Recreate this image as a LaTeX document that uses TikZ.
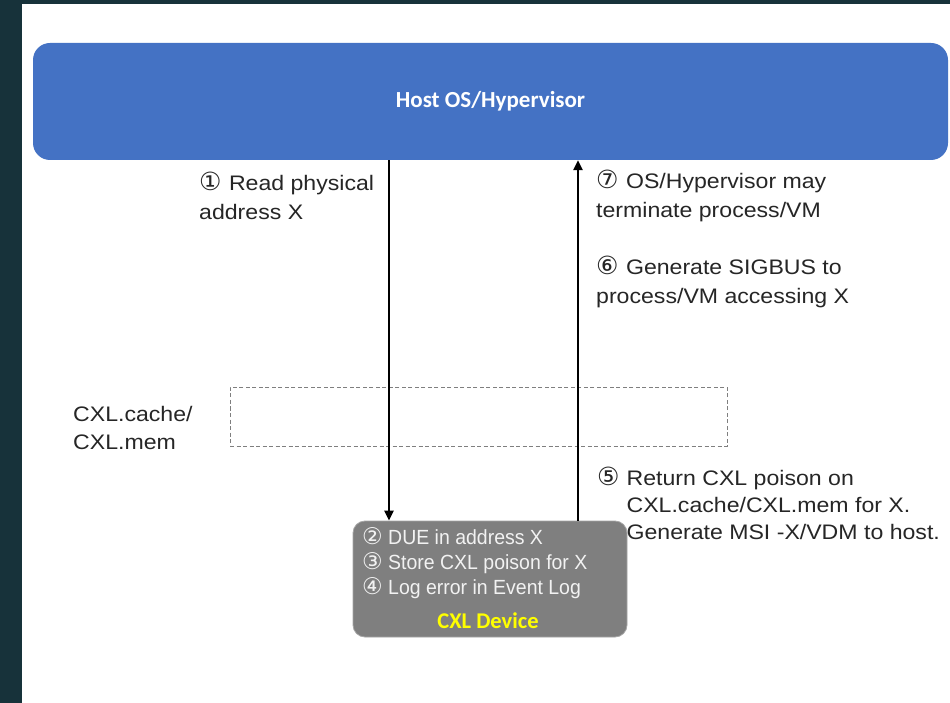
\documentclass[tikz,border=0pt]{standalone}
\usepackage{fontspec}
\setmainfont{Liberation Sans}[FakeStretch=1.1]
\newfontfamily\boxfont{Liberation Sans}[FakeStretch=0.95]
\newfontfamily\titlefont{Carlito}
\newfontfamily\circfont{DejaVu Sans}
\usetikzlibrary{arrows.meta}

\definecolor{frame}{HTML}{17323A}
\definecolor{hostblue}{HTML}{4472C4}
\definecolor{devgray}{HTML}{7F7F7F}
\definecolor{devedge}{HTML}{A6A6A6}
\definecolor{labeltext}{HTML}{262626}
\definecolor{boxtext}{HTML}{F2F2F2}
\definecolor{devyellow}{HTML}{FFFF00}

% circled step numbers
\newcommand{\cn}[1]{{\circfont\fontsize{25}{25}\selectfont #1}}
\newcommand{\cs}[1]{{\circfont\fontsize{23}{23}\selectfont #1}}

\tikzset{
  hostbox/.style={fill=hostblue, draw=none, rounded corners=17pt,
    minimum width=915pt, minimum height=117pt, inner sep=0pt,
    text=white, font=\titlefont\bfseries\fontsize{23}{27}\selectfont},
  devbox/.style={fill=devgray, draw=devedge, line width=0.8pt, rounded corners=12pt,
    minimum width=274pt, minimum height=116pt, inner sep=0pt},
  busbox/.style={draw=devgray, dashed, dash pattern=on 4pt off 2.5pt, line width=1pt,
    minimum width=497pt, minimum height=59pt, inner sep=0pt},
  lbl/.style={anchor=west, inner sep=0pt, align=left, text=labeltext,
    font=\fontsize{21}{28.5}\selectfont},
  devlbl/.style={anchor=west, inner sep=0pt, align=left, text=boxtext,
    font=\boxfont\fontsize{20.5}{25}\selectfont},
  devname/.style={inner sep=0pt, text=devyellow,
    font=\titlefont\bfseries\fontsize{22.5}{26}\selectfont},
  flow/.style={draw=black, line width=2.6pt,
    -{Triangle[length=10pt,width=9pt]}},
}

\begin{document}
\begin{tikzpicture}[x=1pt,y=-1pt]
  % page frame
  \fill[frame] (0,0) rectangle (950,703);
  \fill[white] (22,4) rectangle (950,703);
  \useasboundingbox (0,0) rectangle (950,703);

  % main blocks
  \node[hostbox] (host) at (490.5,101.5) {Host OS/Hypervisor};
  \node[busbox] (bus) at (478.5,416.5) {};
  \node[devbox] (dev) at (490,579) {};

  % device contents
  \node[devlbl] (steps) at (362,563) {\cs{②} DUE in address X\\\cs{③} Store CXL poison for X\\\cs{④} Log error in Event Log};
  \node[devname] (devtitle) at (488,621) {CXL Device};

  % request / response paths
  \coordinate (xa) at (389,0);
  \coordinate (xb) at (578,0);
  \draw[flow] (host.south -| xa) -- (dev.north -| xa);
  \draw[flow] (dev.north -| xb) -- (host.south -| xb);

  % step annotations
  \node[lbl] (s1) at (199,196) {\cn{①}\hspace{1pt} Read physical\\address X};
  \node[lbl] (s7) at (596,196) {\cn{⑦}\hspace{1pt} OS/Hypervisor may\\terminate process/VM};
  \node[lbl] (s6) at (596,282) {\cn{⑥}\hspace{1pt} Generate SIGBUS to\\process/VM accessing X};
  \node[lbl] (buslbl) at (73,428) {CXL.cache/\\CXL.mem};
  \node[lbl] (s5) at (597,507) {\cn{⑤}\hspace{7pt}%
    \renewcommand{\arraystretch}{0.95}\begin{tabular}[t]{@{}l@{}}Return CXL poison on\\CXL.cache/CXL.mem for X.\\Generate MSI -X/VDM to host.\end{tabular}};
\end{tikzpicture}
\end{document}
